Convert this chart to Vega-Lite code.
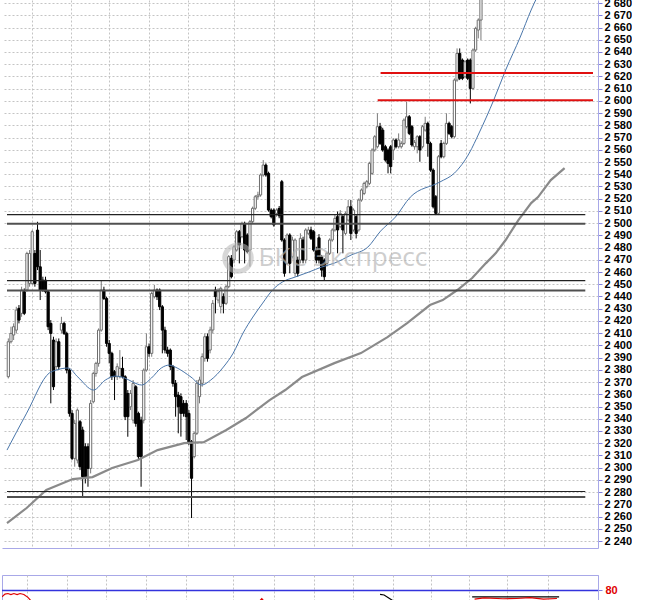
{
"$schema": "https://vega.github.io/schema/vega-lite/v6.json",
"padding": {"top": -3, "left": 0, "right": 0, "bottom": 0},
"background": "white",
"spacing": 26,
"config": {"view": {"stroke": null}, "font": "Liberation Sans"},
"datasets": {
"candles": [
{"t":0,"o":2374.4,"h":2405.7,"l":2373.0,"c":2403.0},
{"t":1,"o":2403.0,"h":2415.3,"l":2401.6,"c":2409.8},
{"t":2,"o":2408.5,"h":2418.0,"l":2404.4,"c":2415.3},
{"t":3,"o":2412.5,"h":2431.6,"l":2409.8,"c":2428.9},
{"t":4,"o":2430.3,"h":2433.0,"l":2418.0,"c":2420.7},
{"t":5,"o":2426.2,"h":2448.0,"l":2423.4,"c":2445.3},
{"t":6,"o":2443.9,"h":2446.6,"l":2424.8,"c":2426.2},
{"t":7,"o":2445.3,"h":2476.6,"l":2443.9,"c":2475.2},
{"t":8,"o":2450.7,"h":2478.0,"l":2448.0,"c":2475.2},
{"t":9,"o":2450.7,"h":2494.3,"l":2449.4,"c":2493.0},
{"t":10,"o":2475.2,"h":2478.0,"l":2448.0,"c":2450.7},
{"t":11,"o":2494.3,"h":2501.1,"l":2461.6,"c":2464.3},
{"t":12,"o":2464.3,"h":2478.0,"l":2437.1,"c":2445.3},
{"t":13,"o":2453.4,"h":2456.2,"l":2443.9,"c":2445.3},
{"t":14,"o":2453.4,"h":2456.2,"l":2442.5,"c":2443.9},
{"t":15,"o":2443.9,"h":2445.3,"l":2412.5,"c":2415.3},
{"t":16,"o":2418.0,"h":2420.7,"l":2352.6,"c":2409.8},
{"t":17,"o":2404.4,"h":2407.1,"l":2363.5,"c":2366.2},
{"t":18,"o":2382.6,"h":2405.7,"l":2379.8,"c":2403.0},
{"t":19,"o":2403.0,"h":2405.7,"l":2379.8,"c":2382.6},
{"t":20,"o":2412.5,"h":2423.4,"l":2409.8,"c":2418.0},
{"t":21,"o":2418.0,"h":2419.4,"l":2408.5,"c":2409.8},
{"t":22,"o":2409.8,"h":2411.2,"l":2377.1,"c":2379.8},
{"t":23,"o":2379.8,"h":2381.2,"l":2341.7,"c":2344.4},
{"t":24,"o":2344.4,"h":2347.1,"l":2306.2,"c":2307.6},
{"t":25,"o":2307.6,"h":2338.9,"l":2300.8,"c":2336.2},
{"t":26,"o":2306.2,"h":2348.5,"l":2303.5,"c":2347.1},
{"t":27,"o":2337.6,"h":2338.9,"l":2298.0,"c":2300.8},
{"t":28,"o":2330.8,"h":2333.5,"l":2276.2,"c":2292.6},
{"t":29,"o":2317.1,"h":2319.9,"l":2287.1,"c":2292.6},
{"t":30,"o":2317.1,"h":2319.9,"l":2284.4,"c":2299.4},
{"t":31,"o":2299.4,"h":2355.3,"l":2295.3,"c":2352.6},
{"t":32,"o":2353.9,"h":2378.5,"l":2352.6,"c":2377.1},
{"t":33,"o":2377.1,"h":2386.6,"l":2374.4,"c":2385.3},
{"t":34,"o":2385.3,"h":2413.9,"l":2382.6,"c":2412.5},
{"t":35,"o":2412.5,"h":2453.4,"l":2411.2,"c":2445.3},
{"t":36,"o":2445.3,"h":2448.0,"l":2437.1,"c":2438.4},
{"t":37,"o":2438.4,"h":2439.8,"l":2398.9,"c":2401.6},
{"t":38,"o":2401.6,"h":2404.4,"l":2385.3,"c":2393.5},
{"t":39,"o":2393.5,"h":2394.8,"l":2371.7,"c":2374.4},
{"t":40,"o":2378.5,"h":2379.8,"l":2355.3,"c":2374.4},
{"t":41,"o":2374.4,"h":2385.3,"l":2371.7,"c":2382.6},
{"t":42,"o":2374.4,"h":2396.2,"l":2373.0,"c":2381.2},
{"t":43,"o":2381.2,"h":2390.7,"l":2373.0,"c":2374.4},
{"t":44,"o":2374.4,"h":2375.7,"l":2338.9,"c":2341.7},
{"t":45,"o":2360.7,"h":2363.5,"l":2325.3,"c":2341.7},
{"t":46,"o":2349.8,"h":2363.5,"l":2347.1,"c":2360.7},
{"t":47,"o":2338.9,"h":2371.7,"l":2336.2,"c":2368.9},
{"t":48,"o":2366.2,"h":2367.5,"l":2333.5,"c":2336.2},
{"t":49,"o":2344.4,"h":2345.8,"l":2306.2,"c":2309.0},
{"t":50,"o":2338.9,"h":2341.7,"l":2284.4,"c":2309.0},
{"t":51,"o":2338.9,"h":2381.2,"l":2336.2,"c":2379.8},
{"t":52,"o":2379.8,"h":2409.8,"l":2378.5,"c":2398.9},
{"t":53,"o":2398.9,"h":2401.6,"l":2390.7,"c":2393.5},
{"t":54,"o":2393.5,"h":2443.9,"l":2390.7,"c":2442.5},
{"t":55,"o":2439.8,"h":2449.4,"l":2438.4,"c":2445.3},
{"t":56,"o":2445.3,"h":2446.6,"l":2437.1,"c":2439.8},
{"t":57,"o":2445.3,"h":2446.6,"l":2428.9,"c":2431.6},
{"t":58,"o":2431.6,"h":2433.0,"l":2393.5,"c":2412.5},
{"t":59,"o":2412.5,"h":2415.3,"l":2393.5,"c":2396.2},
{"t":60,"o":2396.2,"h":2398.9,"l":2390.7,"c":2393.5},
{"t":61,"o":2396.2,"h":2397.5,"l":2379.8,"c":2382.6},
{"t":62,"o":2382.6,"h":2384.0,"l":2366.2,"c":2368.9},
{"t":63,"o":2369.0,"h":2371.7,"l":2341.7,"c":2358.1},
{"t":64,"o":2359.4,"h":2362.0,"l":2328.1,"c":2349.9},
{"t":65,"o":2358.1,"h":2360.8,"l":2325.4,"c":2344.4},
{"t":66,"o":2352.6,"h":2355.3,"l":2341.7,"c":2344.4},
{"t":67,"o":2352.6,"h":2355.3,"l":2322.6,"c":2341.7},
{"t":68,"o":2344.4,"h":2347.1,"l":2318.6,"c":2319.9},
{"t":69,"o":2321.3,"h":2322.6,"l":2258.8,"c":2291.3},
{"t":70,"o":2309.0,"h":2329.5,"l":2307.6,"c":2328.1},
{"t":71,"o":2328.1,"h":2371.7,"l":2326.7,"c":2369.0},
{"t":72,"o":2358.1,"h":2374.4,"l":2352.6,"c":2371.7},
{"t":73,"o":2369.0,"h":2393.5,"l":2366.2,"c":2390.8},
{"t":74,"o":2389.4,"h":2409.8,"l":2386.7,"c":2407.1},
{"t":75,"o":2407.1,"h":2409.8,"l":2386.7,"c":2389.4},
{"t":76,"o":2396.2,"h":2415.3,"l":2393.5,"c":2412.6},
{"t":77,"o":2412.6,"h":2437.1,"l":2409.8,"c":2434.4},
{"t":78,"o":2445.3,"h":2448.0,"l":2426.2,"c":2439.9},
{"t":79,"o":2437.1,"h":2446.7,"l":2434.4,"c":2443.9},
{"t":80,"o":2431.7,"h":2448.0,"l":2426.2,"c":2446.7},
{"t":81,"o":2439.9,"h":2442.6,"l":2426.2,"c":2434.4},
{"t":82,"o":2434.4,"h":2449.4,"l":2433.0,"c":2448.0},
{"t":83,"o":2448.0,"h":2473.9,"l":2446.7,"c":2472.6},
{"t":84,"o":2471.2,"h":2473.9,"l":2454.8,"c":2456.2},
{"t":85,"o":2469.8,"h":2482.1,"l":2467.1,"c":2480.7},
{"t":86,"o":2478.0,"h":2494.4,"l":2476.7,"c":2493.0},
{"t":87,"o":2493.0,"h":2494.4,"l":2467.1,"c":2482.1},
{"t":88,"o":2488.9,"h":2501.2,"l":2487.6,"c":2499.8},
{"t":89,"o":2499.8,"h":2501.2,"l":2467.1,"c":2478.0},
{"t":90,"o":2490.3,"h":2491.7,"l":2475.3,"c":2476.7},
{"t":91,"o":2478.0,"h":2502.6,"l":2464.4,"c":2501.2},
{"t":92,"o":2501.2,"h":2513.5,"l":2499.8,"c":2512.1},
{"t":93,"o":2512.1,"h":2523.0,"l":2510.7,"c":2521.6},
{"t":94,"o":2521.6,"h":2525.7,"l":2519.5,"c":2523.0},
{"t":95,"o":2523.0,"h":2540.7,"l":2521.6,"c":2539.4},
{"t":96,"o":2539.4,"h":2551.6,"l":2538.0,"c":2547.5},
{"t":97,"o":2547.5,"h":2548.9,"l":2538.0,"c":2539.4},
{"t":98,"o":2540.7,"h":2542.1,"l":2509.4,"c":2510.7},
{"t":99,"o":2510.7,"h":2512.1,"l":2503.9,"c":2505.3},
{"t":100,"o":2510.7,"h":2512.1,"l":2497.1,"c":2498.5},
{"t":101,"o":2508.0,"h":2512.1,"l":2505.3,"c":2510.7},
{"t":102,"o":2512.0,"h":2514.0,"l":2504.0,"c":2506.0},
{"t":103,"o":2533.9,"h":2535.3,"l":2484.8,"c":2486.2},
{"t":104,"o":2486.2,"h":2487.6,"l":2456.2,"c":2459.0},
{"t":105,"o":2467.1,"h":2491.7,"l":2465.8,"c":2490.3},
{"t":106,"o":2490.3,"h":2491.7,"l":2459.0,"c":2467.1},
{"t":107,"o":2472.6,"h":2488.9,"l":2471.2,"c":2486.2},
{"t":108,"o":2459.0,"h":2487.6,"l":2456.2,"c":2486.2},
{"t":109,"o":2469.8,"h":2472.6,"l":2456.2,"c":2459.0},
{"t":110,"o":2469.8,"h":2491.7,"l":2467.1,"c":2487.6},
{"t":111,"o":2486.2,"h":2488.9,"l":2467.1,"c":2469.8},
{"t":112,"o":2469.8,"h":2495.8,"l":2467.1,"c":2494.4},
{"t":113,"o":2491.7,"h":2497.0,"l":2490.3,"c":2494.4},
{"t":114,"o":2494.4,"h":2497.1,"l":2486.2,"c":2487.6},
{"t":115,"o":2493.0,"h":2494.4,"l":2476.7,"c":2478.0},
{"t":116,"o":2478.0,"h":2480.7,"l":2467.1,"c":2469.8},
{"t":117,"o":2488.0,"h":2491.0,"l":2467.0,"c":2469.8},
{"t":118,"o":2472.5,"h":2474.0,"l":2456.2,"c":2461.6},
{"t":119,"o":2469.8,"h":2471.2,"l":2453.5,"c":2456.2},
{"t":120,"o":2467.1,"h":2476.7,"l":2464.4,"c":2475.3},
{"t":121,"o":2475.3,"h":2487.6,"l":2473.9,"c":2486.2},
{"t":122,"o":2486.2,"h":2495.8,"l":2484.8,"c":2494.4},
{"t":123,"o":2494.4,"h":2506.6,"l":2493.0,"c":2503.9},
{"t":124,"o":2505.3,"h":2509.4,"l":2475.3,"c":2494.4},
{"t":125,"o":2497.1,"h":2510.7,"l":2495.8,"c":2508.0},
{"t":126,"o":2505.3,"h":2506.6,"l":2475.3,"c":2494.4},
{"t":127,"o":2491.6,"h":2509.4,"l":2490.3,"c":2508.0},
{"t":128,"o":2502.5,"h":2518.9,"l":2501.1,"c":2513.4},
{"t":129,"o":2513.4,"h":2518.9,"l":2486.2,"c":2491.6},
{"t":130,"o":2494.4,"h":2512.1,"l":2493.0,"c":2510.7},
{"t":131,"o":2505.3,"h":2506.6,"l":2487.5,"c":2491.6},
{"t":132,"o":2494.4,"h":2520.3,"l":2493.0,"c":2518.9},
{"t":133,"o":2518.9,"h":2528.4,"l":2517.5,"c":2527.1},
{"t":134,"o":2524.3,"h":2533.9,"l":2522.9,"c":2532.5},
{"t":135,"o":2529.8,"h":2535.3,"l":2528.4,"c":2533.9},
{"t":136,"o":2532.5,"h":2550.2,"l":2531.1,"c":2548.9},
{"t":137,"o":2540.7,"h":2561.2,"l":2539.4,"c":2559.8},
{"t":138,"o":2559.8,"h":2572.0,"l":2558.4,"c":2570.7},
{"t":139,"o":2562.5,"h":2589.8,"l":2561.1,"c":2578.9},
{"t":140,"o":2578.9,"h":2582.0,"l":2563.9,"c":2565.2},
{"t":141,"o":2576.1,"h":2578.0,"l":2558.4,"c":2559.8},
{"t":142,"o":2562.5,"h":2564.0,"l":2550.2,"c":2551.6},
{"t":143,"o":2559.8,"h":2561.2,"l":2540.7,"c":2548.9},
{"t":144,"o":2562.5,"h":2563.9,"l":2540.7,"c":2546.2},
{"t":145,"o":2559.8,"h":2569.3,"l":2551.6,"c":2568.0},
{"t":146,"o":2568.0,"h":2569.3,"l":2561.1,"c":2562.5},
{"t":147,"o":2562.5,"h":2573.4,"l":2561.1,"c":2568.0},
{"t":148,"o":2562.5,"h":2567.0,"l":2561.0,"c":2565.2},
{"t":149,"o":2565.2,"h":2585.7,"l":2563.9,"c":2584.3},
{"t":150,"o":2578.9,"h":2599.3,"l":2577.5,"c":2587.0},
{"t":151,"o":2587.0,"h":2588.4,"l":2572.0,"c":2573.4},
{"t":152,"o":2578.9,"h":2580.3,"l":2562.5,"c":2563.9},
{"t":153,"o":2562.5,"h":2568.0,"l":2560.0,"c":2566.0},
{"t":154,"o":2562.5,"h":2572.0,"l":2557.1,"c":2570.7},
{"t":155,"o":2570.7,"h":2572.0,"l":2550.2,"c":2559.8},
{"t":156,"o":2562.5,"h":2580.3,"l":2561.1,"c":2578.9},
{"t":157,"o":2576.1,"h":2587.0,"l":2574.8,"c":2581.6},
{"t":158,"o":2581.6,"h":2583.0,"l":2554.3,"c":2565.2},
{"t":159,"o":2565.2,"h":2566.6,"l":2542.0,"c":2543.4},
{"t":160,"o":2543.4,"h":2544.8,"l":2512.0,"c":2513.4},
{"t":161,"o":2521.6,"h":2523.0,"l":2506.6,"c":2508.0},
{"t":162,"o":2508.0,"h":2555.7,"l":2506.6,"c":2554.3},
{"t":163,"o":2565.2,"h":2568.0,"l":2553.0,"c":2554.3},
{"t":164,"o":2554.3,"h":2566.6,"l":2553.0,"c":2565.2},
{"t":165,"o":2565.2,"h":2589.8,"l":2563.9,"c":2581.6},
{"t":166,"o":2581.6,"h":2583.0,"l":2572.0,"c":2573.4},
{"t":167,"o":2578.9,"h":2580.3,"l":2569.3,"c":2570.7},
{"t":168,"o":2570.7,"h":2618.4,"l":2569.3,"c":2617.0},
{"t":169,"o":2617.0,"h":2642.9,"l":2615.6,"c":2638.8},
{"t":170,"o":2638.8,"h":2642.9,"l":2617.0,"c":2618.4},
{"t":171,"o":2633.4,"h":2634.7,"l":2617.0,"c":2618.4},
{"t":172,"o":2619.7,"h":2633.4,"l":2618.4,"c":2632.0},
{"t":173,"o":2633.4,"h":2634.7,"l":2617.0,"c":2618.4},
{"t":174,"o":2633.4,"h":2634.7,"l":2597.9,"c":2610.2},
{"t":175,"o":2610.2,"h":2642.9,"l":2608.8,"c":2641.6},
{"t":176,"o":2641.6,"h":2660.6,"l":2640.0,"c":2659.3},
{"t":177,"o":2657.9,"h":2667.5,"l":2651.1,"c":2666.1},
{"t":178,"o":2666.1,"h":2705.0,"l":2649.7,"c":2700.0}
],
"blue": [
{"t":-0.5,"p":2314.4},{"t":6.9,"p":2344.6},{"t":15.4,"p":2377.4},{"t":18.0,"p":2379.8},{"t":22.5,"p":2381.5},{"t":26.2,"p":2374.1},{"t":32.1,"p":2363.5},{"t":36.5,"p":2371.6},{"t":40.2,"p":2374.9},{"t":43.9,"p":2373.3},{"t":46.9,"p":2370.0},{"t":50.2,"p":2367.6},{"t":53.9,"p":2373.3},{"t":57.6,"p":2381.5},{"t":60.6,"p":2383.9},{"t":63.6,"p":2381.5},{"t":68.8,"p":2374.1},{"t":72.8,"p":2367.6},{"t":76.2,"p":2371.6},{"t":81.0,"p":2382.3},{"t":84.7,"p":2393.7},{"t":88.4,"p":2410.1},{"t":92.1,"p":2423.2},{"t":95.8,"p":2434.6},{"t":99.5,"p":2445.3},{"t":103.2,"p":2451.8},{"t":108.0,"p":2455.9},{"t":113.2,"p":2460.0},{"t":118.0,"p":2464.1},{"t":122.8,"p":2467.3},{"t":129.1,"p":2473.9},{"t":135.4,"p":2480.4},{"t":140.2,"p":2493.5},{"t":145.8,"p":2505.0},{"t":151.4,"p":2521.3},{"t":162.5,"p":2533.6},{"t":168.0,"p":2540.9},{"t":173.6,"p":2557.3},{"t":177.3,"p":2573.7},{"t":182.8,"p":2600.6},{"t":187.3,"p":2625.2},{"t":192.8,"p":2652.2},{"t":196.9,"p":2674.3},{"t":201.4,"p":2694.7}
],
"gray": [
{"t":-0.5,"p":2254.7},{"t":6.9,"p":2267.0},{"t":14.3,"p":2281.7},{"t":24.3,"p":2290.7},{"t":31.7,"p":2292.3},{"t":39.1,"p":2299.7},{"t":48.8,"p":2306.2},{"t":56.2,"p":2314.4},{"t":66.2,"p":2320.1},{"t":73.6,"p":2320.9},{"t":82.1,"p":2330.8},{"t":89.5,"p":2340.6},{"t":98.4,"p":2355.3},{"t":104.3,"p":2363.5},{"t":110.6,"p":2374.1},{"t":122.8,"p":2385.5},{"t":132.8,"p":2393.7},{"t":142.8,"p":2406.8},{"t":150.2,"p":2418.3},{"t":158.8,"p":2433.0},{"t":163.6,"p":2437.1},{"t":169.1,"p":2445.3},{"t":174.7,"p":2455.1},{"t":179.9,"p":2467.3},{"t":183.6,"p":2475.5},{"t":187.3,"p":2486.2},{"t":192.1,"p":2502.5},{"t":196.9,"p":2516.4},{"t":199.5,"p":2521.3},{"t":204.3,"p":2535.2},{"t":209.5,"p":2545.0}
],
"levels": [
{"p":2507,"t":-0.5,"t2":217.3,"k":"a"},
{"p":2499.5,"t":-0.5,"t2":217.3,"k":"b"},
{"p":2453,"t":-0.5,"t2":217.3,"k":"a"},
{"p":2445,"t":-0.5,"t2":217.3,"k":"b"},
{"p":2280.5,"t":-0.5,"t2":217.3,"k":"a"},
{"p":2276,"t":-0.5,"t2":217.3,"k":"b"}
],
"red": [
{"p":2622.7,"t":140.2,"t2":220.2},
{"p":2600.6,"t":139.1,"t2":220.2}
],
"wm": [{"t":126.0,"p":2471.4,"label":"БКС Экспресс"}],
"logo": [{"t":86.5,"p":2471.4}],
"stochLevels": [{"v":80}],
"stoch": [
{"t":-0.5,"v":74.5,"s":"d","g":"r1"},{"t":0.6,"v":76.8,"s":"d","g":"r1"},{"t":1.7,"v":77.3,"s":"d","g":"r1"},{"t":2.8,"v":76.3,"s":"d","g":"r1"},{"t":3.9,"v":77.3,"s":"d","g":"r1"},{"t":5.1,"v":76.3,"s":"d","g":"r1"},{"t":6.2,"v":77.3,"s":"d","g":"r1"},{"t":7.6,"v":76.5,"s":"d","g":"r1"},{"t":9.1,"v":74.0,"s":"d","g":"r1"},{"t":10.6,"v":70.0,"s":"d","g":"r1"},
{"t":94.5,"v":70.0,"s":"d","g":"r2"},{"t":95.7,"v":72.8,"s":"d","g":"r2"},{"t":96.8,"v":70.0,"s":"d","g":"r2"},
{"t":139.5,"v":76.5,"s":"k","g":"k1"},{"t":141.0,"v":76.0,"s":"k","g":"k1"},{"t":145.0,"v":70.0,"s":"k","g":"k1"},
{"t":173.6,"v":74.4,"s":"k","g":"k2"},{"t":205.8,"v":74.4,"s":"k","g":"k2"},
{"t":174.5,"v":72.5,"s":"d","g":"r3"},{"t":178.0,"v":73.5,"s":"d","g":"r3"},{"t":185.0,"v":72.8,"s":"d","g":"r3"},{"t":190.0,"v":73.0,"s":"d","g":"r3"},{"t":195.0,"v":73.8,"s":"d","g":"r3"},{"t":200.0,"v":72.5,"s":"d","g":"r3"},{"t":205.0,"v":73.0,"s":"d","g":"r3"}
]
},
"vconcat": [
{
"width": 596,
"height": 548,
"layer": [
{
"data": {"name": "candles"},
"mark": {"type": "rule", "clip": true, "strokeWidth": 1},
"encoding": {
"x": {"field": "t", "type": "quantitative", "scale": {"domain": [-0.5, 220.2], "nice": false, "zero": false},
"axis": {"orient": "bottom", "title": null, "labels": false, "ticks": false, "domainColor": "#a8a8e8", "grid": true, "gridColor": "#c4c4c4", "gridDash": [2, 2], "tickCount": 100, "values": [8.76, 23.6, 38.0, 52.8, 67.6, 85.1, 100.2, 115.1, 129.5, 144.3, 158.4, 172.5, 186.5, 201.7]}},
"y": {"field": "l", "type": "quantitative", "scale": {"domain": [2234.3, 2682.5], "nice": false, "zero": false},
"axis": {"orient": "right", "title": null, "grid": true, "gridColor": "#c4c4c4", "gridDash": [2, 2], "domainColor": "#a8a8e8", "tickColor": "#8080e0", "tickSize": 4, "labelPadding": 2, "labelFont": "Liberation Sans", "labelFontSize": 11, "labelFontWeight": "bold", "labelColor": "#000000", "labelOverlap": false, "tickCount": 100,
"labelExpr": "replace(format(datum.value, ','), ',', ' ')",
"values": [2240,2250,2260,2270,2280,2290,2300,2310,2320,2330,2340,2350,2360,2370,2380,2390,2400,2410,2420,2430,2440,2450,2460,2470,2480,2490,2500,2510,2520,2530,2540,2550,2560,2570,2580,2590,2600,2610,2620,2630,2640,2650,2660,2670,2680]}},
"y2": {"field": "h"},
"color": {"condition": {"test": "datum.c < datum.o", "value": "#000000"}, "value": "#7a7a7a"}
}
},
{
"data": {"name": "candles"},
"mark": {"type": "bar", "clip": true, "size": 2.2, "strokeWidth": 1},
"encoding": {
"x": {"field": "t", "type": "quantitative", "scale": {"domain": [-0.5, 220.2], "nice": false, "zero": false}},
"y": {"field": "o", "type": "quantitative", "scale": {"domain": [2234.3, 2682.5], "nice": false, "zero": false}},
"y2": {"field": "c"},
"fill": {"condition": {"test": "datum.c < datum.o", "value": "#000000"}, "value": "#ffffff"},
"stroke": {"condition": {"test": "datum.c < datum.o", "value": "#000000"}, "value": "#6e6e6e"}
}
},
{
"data": {"name": "gray"},
"mark": {"type": "line", "clip": true, "color": "#8a8a8a", "strokeWidth": 2.2},
"encoding": {
"x": {"field": "t", "type": "quantitative", "scale": {"domain": [-0.5, 220.2], "nice": false, "zero": false}},
"y": {"field": "p", "type": "quantitative", "scale": {"domain": [2234.3, 2682.5], "nice": false, "zero": false}}
}
},
{
"data": {"name": "blue"},
"mark": {"type": "line", "clip": true, "color": "#4a76aa", "strokeWidth": 1, "interpolate": "monotone"},
"encoding": {
"x": {"field": "t", "type": "quantitative", "scale": {"domain": [-0.5, 220.2], "nice": false, "zero": false}},
"y": {"field": "p", "type": "quantitative", "scale": {"domain": [2234.3, 2682.5], "nice": false, "zero": false}}
}
},
{
"data": {"name": "levels"},
"mark": {"type": "rule", "clip": true},
"encoding": {
"x": {"field": "t", "type": "quantitative", "scale": {"domain": [-0.5, 220.2], "nice": false, "zero": false}},
"x2": {"field": "t2"},
"y": {"field": "p", "type": "quantitative", "scale": {"domain": [2234.3, 2682.5], "nice": false, "zero": false}},
"color": {"condition": {"test": "datum.k == 'b'", "value": "#505050"}, "value": "#222222"},
"strokeWidth": {"condition": {"test": "datum.k == 'b'", "value": 2}, "value": 1.2}
}
},
{
"data": {"name": "red"},
"mark": {"type": "rule", "clip": true, "color": "#e01010", "strokeWidth": 2},
"encoding": {
"x": {"field": "t", "type": "quantitative", "scale": {"domain": [-0.5, 220.2], "nice": false, "zero": false}},
"x2": {"field": "t2"},
"y": {"field": "p", "type": "quantitative", "scale": {"domain": [2234.3, 2682.5], "nice": false, "zero": false}}
}
},
{
"data": {"name": "logo"},
"mark": {"type": "point", "shape": "circle", "filled": false, "size": 700, "strokeWidth": 5, "color": "#b8b8b8", "opacity": 0.55},
"encoding": {
"x": {"field": "t", "type": "quantitative", "scale": {"domain": [-0.5, 220.2], "nice": false, "zero": false}},
"y": {"field": "p", "type": "quantitative", "scale": {"domain": [2234.3, 2682.5], "nice": false, "zero": false}}
}
},
{
"data": {"name": "wm"},
"mark": {"type": "text", "font": "Open Sans", "fontSize": 26, "color": "#b4b4b4", "opacity": 0.65, "align": "center", "baseline": "middle"},
"encoding": {
"x": {"field": "t", "type": "quantitative", "scale": {"domain": [-0.5, 220.2], "nice": false, "zero": false}},
"y": {"field": "p", "type": "quantitative", "scale": {"domain": [2234.3, 2682.5], "nice": false, "zero": false}},
"text": {"field": "label"}
}
}
]
},
{
"width": 596,
"height": 25,
"view": {"stroke": "#a8a8e8"},
"layer": [
{
"data": {"name": "stochLevels"},
"mark": {"type": "rule", "color": "#3333dd", "strokeWidth": 1.5},
"encoding": {
"y": {"field": "v", "type": "quantitative", "scale": {"domain": [71.7, 93.3], "nice": false, "zero": false},
"axis": {"orient": "right", "title": null, "values": [80], "grid": false, "domainColor": "#a8a8e8", "tickColor": "#8080e0", "tickSize": 4, "labelPadding": 3, "labelFont": "Liberation Sans", "labelColor": "#e00000", "labelFontWeight": "bold", "labelFontSize": 11, "labelOverlap": false}}
}
},
{
"data": {"name": "stoch"},
"mark": {"type": "line", "clip": true, "strokeWidth": 1.2},
"encoding": {
"x": {"field": "t", "type": "quantitative", "scale": {"domain": [-0.5, 220.2], "nice": false, "zero": false},
"axis": {"orient": "bottom", "title": null, "labels": false, "ticks": false, "domain": false, "grid": true, "gridColor": "#c4c4c4", "gridDash": [2, 2], "tickCount": 100, "values": [8.76, 23.6, 38.0, 52.8, 67.6, 85.1, 100.2, 115.1, 129.5, 144.3, 158.4, 172.5, 186.5, 201.7]}},
"y": {"field": "v", "type": "quantitative", "scale": {"domain": [71.7, 93.3], "nice": false, "zero": false}},
"color": {"field": "s", "type": "nominal", "scale": {"domain": ["k", "d"], "range": ["#000000", "#e00000"]}, "legend": null},
"detail": {"field": "g", "type": "nominal"}
}
}
]
}
]
}
